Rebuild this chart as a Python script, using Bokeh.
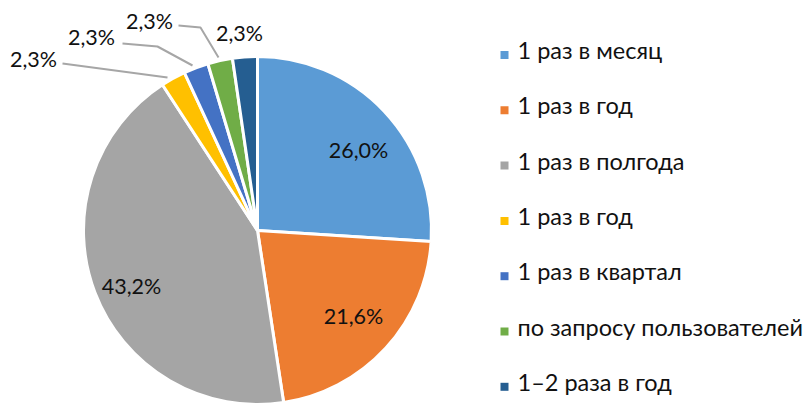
import math
from bokeh.plotting import figure
from bokeh.models import Range1d, ColumnDataSource
from bokeh.core.properties import value
from bokeh.embed import file_html
from bokeh.resources import INLINE

# ---- data ----
categories = ["1 раз в месяц", "1 раз в год", "1 раз в полгода", "1 раз в год",
              "1 раз в квартал", "по запросу пользователей", "1–2 раза в год"]
values = [26.0, 21.6, 43.2, 2.3, 2.3, 2.3, 2.3]
pct_labels = ["26,0%", "21,6%", "43,2%", "2,3%", "2,3%", "2,3%", "2,3%"]
colors = ["#5B9BD5", "#ED7D31", "#A5A5A5", "#FFC000", "#4472C4", "#70AD47", "#255E91"]

# ---- layout (image pixel coordinates) ----
W, H = 808, 406
def X(ix): return ix
def Y(iy): return H - iy

cx, cy, R = X(257), Y(230), 174
label_pos = [(358, 149), (353, 315), (131, 285), (33, 58), (91, 36), (149, 20), (239, 32)]
leaders = [
    [(62, 63), (167, 77)],
    [(122, 43), (157, 46), (192, 65)],
    [(178, 25), (200, 27), (218, 57)],
]
legend_x_sq, legend_x_txt = 504, 517
legend_mid0, legend_step = 49.5, 55.3
FONT = "Lato"

p = figure(width=W, height=H, x_range=Range1d(0, W), y_range=Range1d(0, H),
           output_backend="svg", toolbar_location=None, x_axis_type=None,
           y_axis_type=None, min_border=0, outline_line_color=None)
p.grid.visible = False
p.background_fill_color = "white"
p.border_fill_color = "white"

total = sum(values)
starts, ends = [], []
cum = 0.0
for v in values:
    a0 = math.pi / 2 - 2 * math.pi * cum / total
    cum += v
    a1 = math.pi / 2 - 2 * math.pi * cum / total
    starts.append(a1)
    ends.append(a0)

src = ColumnDataSource(dict(start=starts, end=ends, color=colors))
p.wedge(x=cx, y=cy, radius=R, start_angle="start", end_angle="end",
        fill_color="color", line_color="white", line_width=3, source=src)

# leader lines
p.multi_line(xs=[[X(a) for a, b in l] for l in leaders],
             ys=[[Y(b) for a, b in l] for l in leaders],
             line_color="#A6A6A6", line_width=2)

# percentage labels
p.text(x=[X(a) for a, b in label_pos], y=[Y(b) for a, b in label_pos], text=pct_labels,
       text_font=value(FONT), text_font_size="21.5px", text_color="#111111",
       text_align="center", text_baseline="middle")

# legend
ly = [Y(legend_mid0 + i * legend_step) for i in range(len(categories))]
p.rect(x=[X(legend_x_sq)] * len(categories), y=[v - 5 for v in ly], width=8, height=8,
       fill_color=colors, line_color=None)
p.text(x=[X(legend_x_txt)] * len(categories), y=ly, text=categories,
       text_font=value(FONT), text_font_size="23.5px", text_color="#111111",
       text_align="left", text_baseline="middle")

open("out.html", "w").write(file_html(p, INLINE))
